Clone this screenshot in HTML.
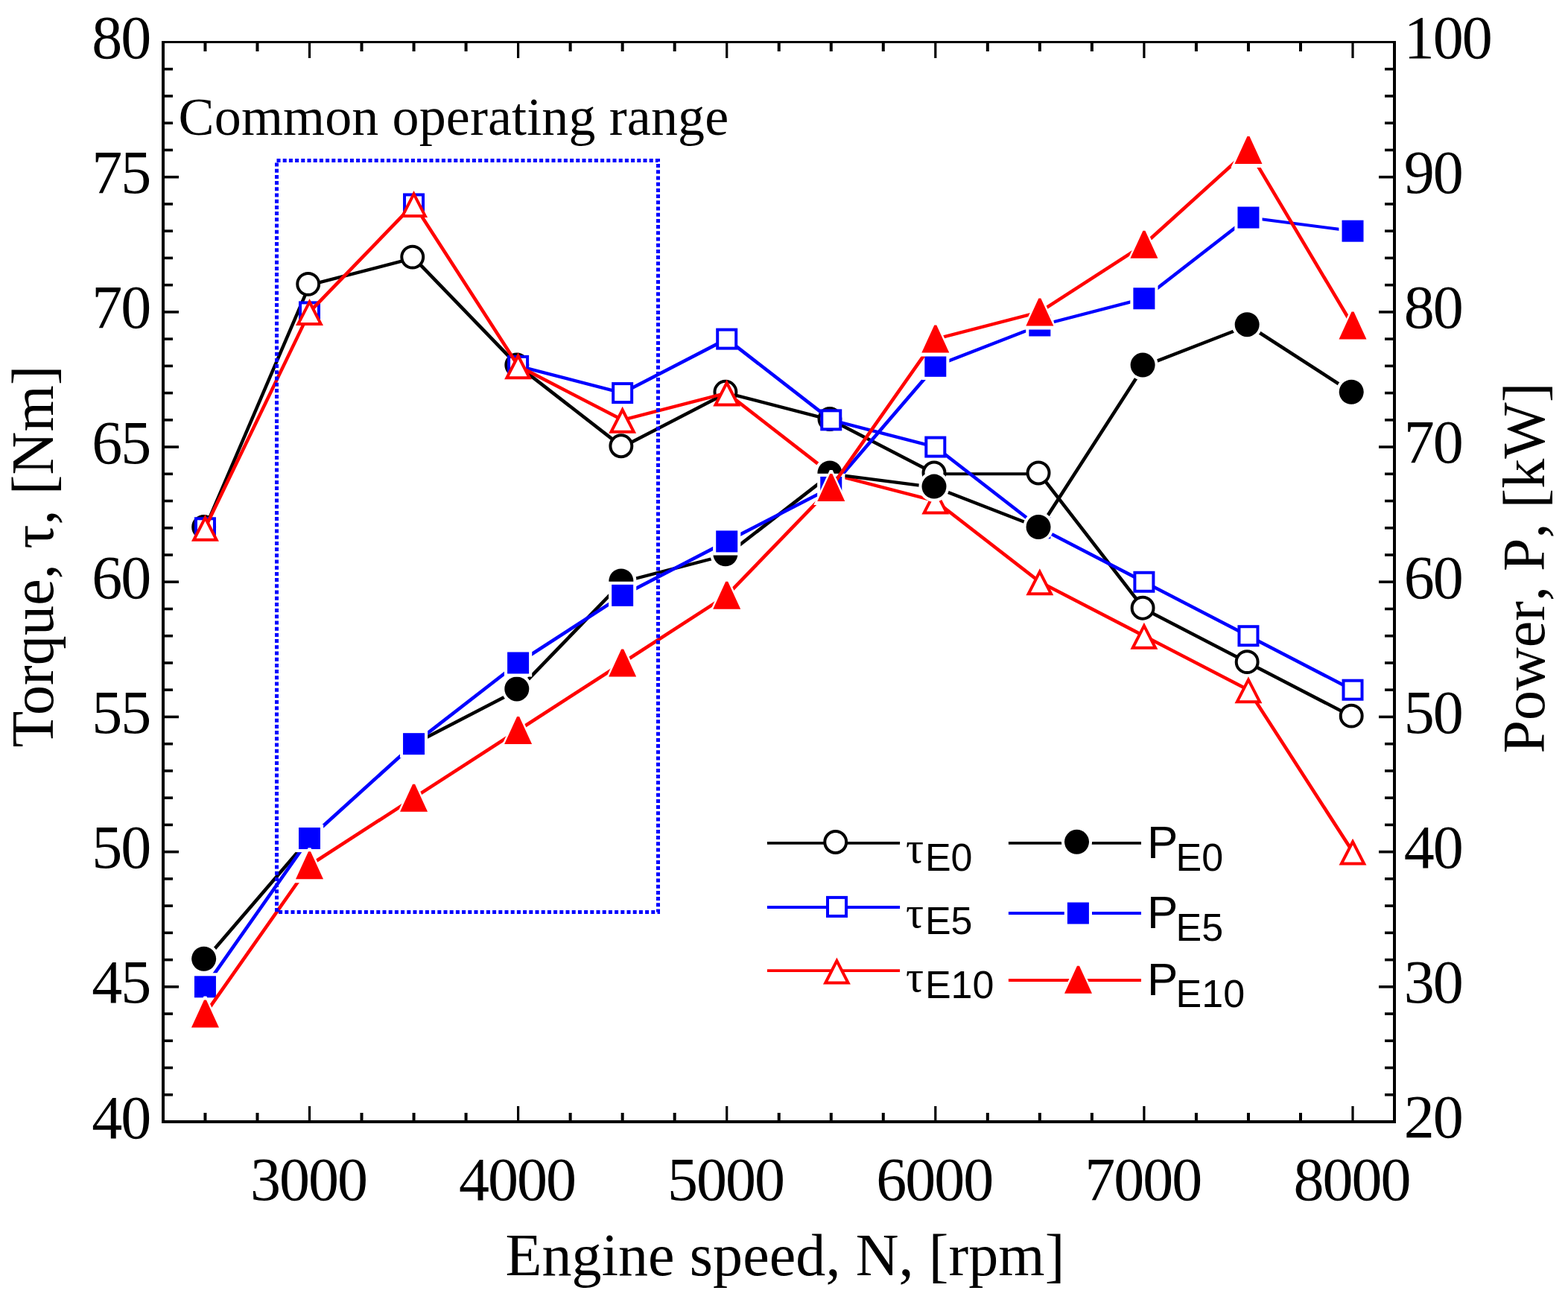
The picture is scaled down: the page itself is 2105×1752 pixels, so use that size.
<!DOCTYPE html>
<html><head><meta charset="utf-8"><title>Torque and power vs engine speed</title>
<style>html,body{margin:0;padding:0;background:#fff}svg{display:block}.sr{font-family:"Liberation Serif","Times New Roman",serif}.ss{font-family:"Liberation Sans",Arial,sans-serif}</style></head><body>
<svg width="2105" height="1752" viewBox="0 0 2105 1752">
<rect x="0" y="0" width="2105" height="1752" fill="#fff"/>
<g fill="#000"><rect x="273.45" y="1494" width="4" height="11"/><rect x="273.45" y="57" width="4" height="12"/><rect x="343.48" y="1494" width="4" height="11"/><rect x="343.48" y="57" width="4" height="12"/><rect x="413.9" y="1485" width="3.2" height="20"/><rect x="413.9" y="57" width="3.2" height="21"/><rect x="483.52" y="1494" width="4" height="11"/><rect x="483.52" y="57" width="4" height="12"/><rect x="553.55" y="1494" width="4" height="11"/><rect x="553.55" y="57" width="4" height="12"/><rect x="623.58" y="1494" width="4" height="11"/><rect x="623.58" y="57" width="4" height="12"/><rect x="694" y="1485" width="3.2" height="20"/><rect x="694" y="57" width="3.2" height="21"/><rect x="763.62" y="1494" width="4" height="11"/><rect x="763.62" y="57" width="4" height="12"/><rect x="833.65" y="1494" width="4" height="11"/><rect x="833.65" y="57" width="4" height="12"/><rect x="903.67" y="1494" width="4" height="11"/><rect x="903.67" y="57" width="4" height="12"/><rect x="974.1" y="1485" width="3.2" height="20"/><rect x="974.1" y="57" width="3.2" height="21"/><rect x="1043.72" y="1494" width="4" height="11"/><rect x="1043.72" y="57" width="4" height="12"/><rect x="1113.75" y="1494" width="4" height="11"/><rect x="1113.75" y="57" width="4" height="12"/><rect x="1183.78" y="1494" width="4" height="11"/><rect x="1183.78" y="57" width="4" height="12"/><rect x="1254.2" y="1485" width="3.2" height="20"/><rect x="1254.2" y="57" width="3.2" height="21"/><rect x="1323.83" y="1494" width="4" height="11"/><rect x="1323.83" y="57" width="4" height="12"/><rect x="1393.85" y="1494" width="4" height="11"/><rect x="1393.85" y="57" width="4" height="12"/><rect x="1463.88" y="1494" width="4" height="11"/><rect x="1463.88" y="57" width="4" height="12"/><rect x="1534.3" y="1485" width="3.2" height="20"/><rect x="1534.3" y="57" width="3.2" height="21"/><rect x="1603.92" y="1494" width="4" height="11"/><rect x="1603.92" y="57" width="4" height="12"/><rect x="1673.95" y="1494" width="4" height="11"/><rect x="1673.95" y="57" width="4" height="12"/><rect x="1743.98" y="1494" width="4" height="11"/><rect x="1743.98" y="57" width="4" height="12"/><rect x="1814.4" y="1485" width="3.2" height="20"/><rect x="1814.4" y="57" width="3.2" height="21"/><rect x="220" y="1467.96" width="12" height="3.6"/><rect x="1859" y="1467.96" width="12" height="3.6"/><rect x="220" y="1431.72" width="12" height="3.6"/><rect x="1859" y="1431.72" width="12" height="3.6"/><rect x="220" y="1395.49" width="12" height="3.6"/><rect x="1859" y="1395.49" width="12" height="3.6"/><rect x="220" y="1359.25" width="12" height="3.6"/><rect x="1859" y="1359.25" width="12" height="3.6"/><rect x="220" y="1323.01" width="20" height="3.6"/><rect x="1851" y="1323.01" width="20" height="3.6"/><rect x="220" y="1286.77" width="12" height="3.6"/><rect x="1859" y="1286.77" width="12" height="3.6"/><rect x="220" y="1250.54" width="12" height="3.6"/><rect x="1859" y="1250.54" width="12" height="3.6"/><rect x="220" y="1214.3" width="12" height="3.6"/><rect x="1859" y="1214.3" width="12" height="3.6"/><rect x="220" y="1178.06" width="12" height="3.6"/><rect x="1859" y="1178.06" width="12" height="3.6"/><rect x="220" y="1141.83" width="20" height="3.6"/><rect x="1851" y="1141.83" width="20" height="3.6"/><rect x="220" y="1105.59" width="12" height="3.6"/><rect x="1859" y="1105.59" width="12" height="3.6"/><rect x="220" y="1069.35" width="12" height="3.6"/><rect x="1859" y="1069.35" width="12" height="3.6"/><rect x="220" y="1033.11" width="12" height="3.6"/><rect x="1859" y="1033.11" width="12" height="3.6"/><rect x="220" y="996.88" width="12" height="3.6"/><rect x="1859" y="996.88" width="12" height="3.6"/><rect x="220" y="960.64" width="20" height="3.6"/><rect x="1851" y="960.64" width="20" height="3.6"/><rect x="220" y="924.4" width="12" height="3.6"/><rect x="1859" y="924.4" width="12" height="3.6"/><rect x="220" y="888.16" width="12" height="3.6"/><rect x="1859" y="888.16" width="12" height="3.6"/><rect x="220" y="851.92" width="12" height="3.6"/><rect x="1859" y="851.92" width="12" height="3.6"/><rect x="220" y="815.69" width="12" height="3.6"/><rect x="1859" y="815.69" width="12" height="3.6"/><rect x="220" y="779.45" width="20" height="3.6"/><rect x="1851" y="779.45" width="20" height="3.6"/><rect x="220" y="743.21" width="12" height="3.6"/><rect x="1859" y="743.21" width="12" height="3.6"/><rect x="220" y="706.98" width="12" height="3.6"/><rect x="1859" y="706.98" width="12" height="3.6"/><rect x="220" y="670.74" width="12" height="3.6"/><rect x="1859" y="670.74" width="12" height="3.6"/><rect x="220" y="634.5" width="12" height="3.6"/><rect x="1859" y="634.5" width="12" height="3.6"/><rect x="220" y="598.26" width="20" height="3.6"/><rect x="1851" y="598.26" width="20" height="3.6"/><rect x="220" y="562.02" width="12" height="3.6"/><rect x="1859" y="562.02" width="12" height="3.6"/><rect x="220" y="525.79" width="12" height="3.6"/><rect x="1859" y="525.79" width="12" height="3.6"/><rect x="220" y="489.55" width="12" height="3.6"/><rect x="1859" y="489.55" width="12" height="3.6"/><rect x="220" y="453.31" width="12" height="3.6"/><rect x="1859" y="453.31" width="12" height="3.6"/><rect x="220" y="417.07" width="20" height="3.6"/><rect x="1851" y="417.07" width="20" height="3.6"/><rect x="220" y="380.84" width="12" height="3.6"/><rect x="1859" y="380.84" width="12" height="3.6"/><rect x="220" y="344.6" width="12" height="3.6"/><rect x="1859" y="344.6" width="12" height="3.6"/><rect x="220" y="308.36" width="12" height="3.6"/><rect x="1859" y="308.36" width="12" height="3.6"/><rect x="220" y="272.12" width="12" height="3.6"/><rect x="1859" y="272.12" width="12" height="3.6"/><rect x="220" y="235.89" width="20" height="3.6"/><rect x="1851" y="235.89" width="20" height="3.6"/><rect x="220" y="199.65" width="12" height="3.6"/><rect x="1859" y="199.65" width="12" height="3.6"/><rect x="220" y="163.41" width="12" height="3.6"/><rect x="1859" y="163.41" width="12" height="3.6"/><rect x="220" y="127.17" width="12" height="3.6"/><rect x="1859" y="127.17" width="12" height="3.6"/><rect x="220" y="90.94" width="12" height="3.6"/><rect x="1859" y="90.94" width="12" height="3.6"/></g>
<g fill="#000"><rect x="217" y="55" width="1657" height="3"/><rect x="217" y="1504" width="1657" height="4"/><rect x="217" y="55" width="4" height="1453"/><rect x="1870" y="55" width="4" height="1453"/></g>
<g class="sr" font-size="82" letter-spacing="-2" fill="#000"><text x="123.2" y="1527.6">40</text><text x="123.2" y="1346.41">45</text><text x="123.2" y="1165.22">50</text><text x="123.2" y="984.04">55</text><text x="123.2" y="802.85">60</text><text x="123.2" y="621.66">65</text><text x="123.2" y="440.48">70</text><text x="123.2" y="259.29">75</text><text x="123.2" y="78.1">80</text><text x="1884.8" y="1527.4">20</text><text x="1884.8" y="1346.21">30</text><text x="1884.8" y="1165.03">40</text><text x="1884.8" y="983.84">50</text><text x="1884.8" y="802.65">60</text><text x="1884.8" y="621.46">70</text><text x="1884.8" y="440.27">80</text><text x="1884.8" y="259.09">90</text><text x="1884.8" y="77.9">100</text><text x="335.9" y="1611">3000</text><text x="616" y="1611">4000</text><text x="896.1" y="1611">5000</text><text x="1176.2" y="1611">6000</text><text x="1456.3" y="1611">7000</text><text x="1736.4" y="1611">8000</text></g>
<text class="sr" font-size="80" fill="#000" letter-spacing="0.15" transform="translate(70.65,1003.5) rotate(-90)">Torque, τ, [Nm]</text>
<text class="sr" font-size="80" fill="#000" style="font-kerning:none" transform="translate(2072.8,1011.4) rotate(-90)">Power, P, [kW]</text>
<text class="sr" font-size="80" fill="#000" letter-spacing="0.1" x="678.5" y="1711.8">Engine speed, N, [rpm]</text>
<text class="sr" font-size="72" fill="#000" letter-spacing="0.13" x="239.6" y="181">Common operating range</text>
<g><g stroke="#000000" stroke-linecap="round"><line x1="275.45" y1="708.77" x2="415.5" y2="382.64" stroke-width="4.5"/><line x1="415.5" y1="382.64" x2="555.55" y2="346.4" stroke-width="4.35"/><line x1="555.55" y1="346.4" x2="695.6" y2="491.35" stroke-width="4.66"/><line x1="695.6" y1="491.35" x2="835.65" y2="600.06" stroke-width="4.64"/><line x1="835.65" y1="600.06" x2="975.7" y2="527.59" stroke-width="4.56"/><line x1="975.7" y1="527.59" x2="1115.75" y2="563.82" stroke-width="4.35"/><line x1="1115.75" y1="563.82" x2="1255.8" y2="636.3" stroke-width="4.56"/><line x1="1255.8" y1="636.3" x2="1395.85" y2="636.3" stroke-width="4"/><line x1="1395.85" y1="636.3" x2="1535.9" y2="817.49" stroke-width="4.64"/><line x1="1535.9" y1="817.49" x2="1675.95" y2="889.96" stroke-width="4.56"/><line x1="1675.95" y1="889.96" x2="1816" y2="962.44" stroke-width="4.56"/></g><circle cx="273.65" cy="707.48" r="14.45" fill="#fff" stroke="#000000" stroke-width="4.0"/><circle cx="413.7" cy="381.34" r="14.45" fill="#fff" stroke="#000000" stroke-width="4.0"/><circle cx="553.75" cy="345.1" r="14.45" fill="#fff" stroke="#000000" stroke-width="4.0"/><circle cx="693.8" cy="490.05" r="14.45" fill="#fff" stroke="#000000" stroke-width="4.0"/><circle cx="833.85" cy="598.76" r="14.45" fill="#fff" stroke="#000000" stroke-width="4.0"/><circle cx="973.9" cy="526.29" r="14.45" fill="#fff" stroke="#000000" stroke-width="4.0"/><circle cx="1113.95" cy="562.52" r="14.45" fill="#fff" stroke="#000000" stroke-width="4.0"/><circle cx="1254" cy="635" r="14.45" fill="#fff" stroke="#000000" stroke-width="4.0"/><circle cx="1394.05" cy="635" r="14.45" fill="#fff" stroke="#000000" stroke-width="4.0"/><circle cx="1534.1" cy="816.19" r="14.45" fill="#fff" stroke="#000000" stroke-width="4.0"/><circle cx="1674.15" cy="888.66" r="14.45" fill="#fff" stroke="#000000" stroke-width="4.0"/><circle cx="1814.2" cy="961.14" r="14.45" fill="#fff" stroke="#000000" stroke-width="4.0"/></g>
<g><g stroke="#0000ff" stroke-linecap="round"><line x1="695.6" y1="491.35" x2="835.65" y2="527.59" stroke-width="4.35"/><line x1="835.65" y1="527.59" x2="975.7" y2="455.11" stroke-width="4.56"/><line x1="975.7" y1="455.11" x2="1115.75" y2="563.82" stroke-width="4.64"/><line x1="1115.75" y1="563.82" x2="1255.8" y2="600.06" stroke-width="4.35"/><line x1="1255.8" y1="600.06" x2="1395.85" y2="708.77" stroke-width="4.64"/><line x1="1395.85" y1="708.77" x2="1535.9" y2="781.25" stroke-width="4.56"/><line x1="1535.9" y1="781.25" x2="1675.95" y2="853.72" stroke-width="4.56"/><line x1="1675.95" y1="853.72" x2="1816" y2="926.2" stroke-width="4.56"/></g><rect x="262.95" y="696.27" width="25" height="25" fill="#fff" stroke="#0000ff" stroke-width="4.0"/><rect x="403" y="406.38" width="25" height="25" fill="#fff" stroke="#0000ff" stroke-width="4.0"/><rect x="543.05" y="261.42" width="25" height="25" fill="#fff" stroke="#0000ff" stroke-width="4.0"/><rect x="683.1" y="478.85" width="25" height="25" fill="#fff" stroke="#0000ff" stroke-width="4.0"/><rect x="823.15" y="515.09" width="25" height="25" fill="#fff" stroke="#0000ff" stroke-width="4.0"/><rect x="963.2" y="442.61" width="25" height="25" fill="#fff" stroke="#0000ff" stroke-width="4.0"/><rect x="1103.25" y="551.32" width="25" height="25" fill="#fff" stroke="#0000ff" stroke-width="4.0"/><rect x="1243.3" y="587.56" width="25" height="25" fill="#fff" stroke="#0000ff" stroke-width="4.0"/><rect x="1383.35" y="696.27" width="25" height="25" fill="#fff" stroke="#0000ff" stroke-width="4.0"/><rect x="1523.4" y="768.75" width="25" height="25" fill="#fff" stroke="#0000ff" stroke-width="4.0"/><rect x="1663.45" y="841.22" width="25" height="25" fill="#fff" stroke="#0000ff" stroke-width="4.0"/><rect x="1803.5" y="913.7" width="25" height="25" fill="#fff" stroke="#0000ff" stroke-width="4.0"/></g>
<g><g stroke="#ff0000" stroke-linecap="round"><line x1="275.45" y1="708.77" x2="415.5" y2="418.88" stroke-width="4.54"/><line x1="415.5" y1="418.88" x2="555.55" y2="273.92" stroke-width="4.66"/><line x1="555.55" y1="273.92" x2="695.6" y2="491.35" stroke-width="4.61"/><line x1="695.6" y1="491.35" x2="835.65" y2="563.82" stroke-width="4.56"/><line x1="835.65" y1="563.82" x2="975.7" y2="527.59" stroke-width="4.35"/><line x1="975.7" y1="527.59" x2="1115.75" y2="636.3" stroke-width="4.64"/><line x1="1115.75" y1="636.3" x2="1255.8" y2="672.54" stroke-width="4.35"/><line x1="1255.8" y1="672.54" x2="1395.85" y2="781.25" stroke-width="4.64"/><line x1="1395.85" y1="781.25" x2="1535.9" y2="853.72" stroke-width="4.56"/><line x1="1535.9" y1="853.72" x2="1675.95" y2="926.2" stroke-width="4.56"/><line x1="1675.95" y1="926.2" x2="1816" y2="1143.62" stroke-width="4.61"/></g><polygon points="275.45,695.17 290.65,724.77 260.25,724.77" fill="#fff" stroke="#ff0000" stroke-width="4" stroke-linejoin="miter"/><polygon points="415.5,405.27 430.7,434.88 400.3,434.88" fill="#fff" stroke="#ff0000" stroke-width="4" stroke-linejoin="miter"/><polygon points="555.55,260.32 570.75,289.92 540.35,289.92" fill="#fff" stroke="#ff0000" stroke-width="4" stroke-linejoin="miter"/><polygon points="695.6,477.75 710.8,507.35 680.4,507.35" fill="#fff" stroke="#ff0000" stroke-width="4" stroke-linejoin="miter"/><polygon points="835.65,550.22 850.85,579.82 820.45,579.82" fill="#fff" stroke="#ff0000" stroke-width="4" stroke-linejoin="miter"/><polygon points="975.7,513.99 990.9,543.59 960.5,543.59" fill="#fff" stroke="#ff0000" stroke-width="4" stroke-linejoin="miter"/><polygon points="1115.75,622.7 1130.95,652.3 1100.55,652.3" fill="#fff" stroke="#ff0000" stroke-width="4" stroke-linejoin="miter"/><polygon points="1255.8,658.94 1271,688.54 1240.6,688.54" fill="#fff" stroke="#ff0000" stroke-width="4" stroke-linejoin="miter"/><polygon points="1395.85,767.65 1411.05,797.25 1380.65,797.25" fill="#fff" stroke="#ff0000" stroke-width="4" stroke-linejoin="miter"/><polygon points="1535.9,840.12 1551.1,869.72 1520.7,869.72" fill="#fff" stroke="#ff0000" stroke-width="4" stroke-linejoin="miter"/><polygon points="1675.95,912.6 1691.15,942.2 1660.75,942.2" fill="#fff" stroke="#ff0000" stroke-width="4" stroke-linejoin="miter"/><polygon points="1816,1130.03 1831.2,1159.62 1800.8,1159.62" fill="#fff" stroke="#ff0000" stroke-width="4" stroke-linejoin="miter"/></g>
<g><g stroke="#000000" stroke-linecap="round"><line x1="275.45" y1="1288.57" x2="415.5" y2="1125.51" stroke-width="4.66"/><line x1="555.55" y1="998.67" x2="695.6" y2="926.2" stroke-width="4.56"/><line x1="695.6" y1="926.2" x2="835.65" y2="781.25" stroke-width="4.66"/><line x1="835.65" y1="781.25" x2="975.7" y2="745.01" stroke-width="4.35"/><line x1="975.7" y1="745.01" x2="1115.75" y2="636.3" stroke-width="4.64"/><line x1="1115.75" y1="636.3" x2="1255.8" y2="654.42" stroke-width="4.19"/><line x1="1255.8" y1="654.42" x2="1395.85" y2="708.77" stroke-width="4.47"/><line x1="1395.85" y1="708.77" x2="1535.9" y2="491.35" stroke-width="4.61"/><line x1="1535.9" y1="491.35" x2="1675.95" y2="436.99" stroke-width="4.47"/><line x1="1675.95" y1="436.99" x2="1816" y2="527.59" stroke-width="4.61"/></g><circle cx="273.65" cy="1287.27" r="20.6" fill="#fff"/><circle cx="273.65" cy="1287.27" r="16.5" fill="#000000"/><circle cx="413.7" cy="1124.21" r="20.6" fill="#fff"/><circle cx="413.7" cy="1124.21" r="16.5" fill="#000000"/><circle cx="553.75" cy="997.38" r="20.6" fill="#fff"/><circle cx="553.75" cy="997.38" r="16.5" fill="#000000"/><circle cx="693.8" cy="924.9" r="20.6" fill="#fff"/><circle cx="693.8" cy="924.9" r="16.5" fill="#000000"/><circle cx="833.85" cy="779.95" r="20.6" fill="#fff"/><circle cx="833.85" cy="779.95" r="16.5" fill="#000000"/><circle cx="973.9" cy="743.71" r="20.6" fill="#fff"/><circle cx="973.9" cy="743.71" r="16.5" fill="#000000"/><circle cx="1113.95" cy="635" r="20.6" fill="#fff"/><circle cx="1113.95" cy="635" r="16.5" fill="#000000"/><circle cx="1254" cy="653.12" r="20.6" fill="#fff"/><circle cx="1254" cy="653.12" r="16.5" fill="#000000"/><circle cx="1394.05" cy="707.48" r="20.6" fill="#fff"/><circle cx="1394.05" cy="707.48" r="16.5" fill="#000000"/><circle cx="1534.1" cy="490.05" r="20.6" fill="#fff"/><circle cx="1534.1" cy="490.05" r="16.5" fill="#000000"/><circle cx="1674.15" cy="435.69" r="20.6" fill="#fff"/><circle cx="1674.15" cy="435.69" r="16.5" fill="#000000"/><circle cx="1814.2" cy="526.29" r="20.6" fill="#fff"/><circle cx="1814.2" cy="526.29" r="16.5" fill="#000000"/></g>
<g><g stroke="#0000ff" stroke-linecap="round"><line x1="275.45" y1="1324.81" x2="415.5" y2="1125.51" stroke-width="4.63"/><line x1="415.5" y1="1125.51" x2="555.55" y2="998.67" stroke-width="4.66"/><line x1="555.55" y1="998.67" x2="695.6" y2="889.96" stroke-width="4.64"/><line x1="695.6" y1="889.96" x2="835.65" y2="799.37" stroke-width="4.61"/><line x1="835.65" y1="799.37" x2="975.7" y2="726.89" stroke-width="4.56"/><line x1="975.7" y1="726.89" x2="1115.75" y2="654.42" stroke-width="4.56"/><line x1="1115.75" y1="654.42" x2="1255.8" y2="491.35" stroke-width="4.66"/><line x1="1255.8" y1="491.35" x2="1395.85" y2="436.99" stroke-width="4.47"/><line x1="1395.85" y1="436.99" x2="1535.9" y2="400.76" stroke-width="4.35"/><line x1="1535.9" y1="400.76" x2="1675.95" y2="292.04" stroke-width="4.64"/><line x1="1675.95" y1="292.04" x2="1816" y2="310.16" stroke-width="4.19"/></g><rect x="256.85" y="1306.21" width="37.2" height="37.2" fill="#fff"/><rect x="260.95" y="1310.31" width="29" height="29" fill="#0000ff"/><rect x="396.9" y="1106.91" width="37.2" height="37.2" fill="#fff"/><rect x="401" y="1111.01" width="29" height="29" fill="#0000ff"/><rect x="536.95" y="980.07" width="37.2" height="37.2" fill="#fff"/><rect x="541.05" y="984.17" width="29" height="29" fill="#0000ff"/><rect x="677" y="871.36" width="37.2" height="37.2" fill="#fff"/><rect x="681.1" y="875.46" width="29" height="29" fill="#0000ff"/><rect x="817.05" y="780.77" width="37.2" height="37.2" fill="#fff"/><rect x="821.15" y="784.87" width="29" height="29" fill="#0000ff"/><rect x="957.1" y="708.29" width="37.2" height="37.2" fill="#fff"/><rect x="961.2" y="712.39" width="29" height="29" fill="#0000ff"/><rect x="1097.15" y="635.82" width="37.2" height="37.2" fill="#fff"/><rect x="1101.25" y="639.92" width="29" height="29" fill="#0000ff"/><rect x="1237.2" y="472.75" width="37.2" height="37.2" fill="#fff"/><rect x="1241.3" y="476.85" width="29" height="29" fill="#0000ff"/><rect x="1377.25" y="418.39" width="37.2" height="37.2" fill="#fff"/><rect x="1381.35" y="422.49" width="29" height="29" fill="#0000ff"/><rect x="1517.3" y="382.16" width="37.2" height="37.2" fill="#fff"/><rect x="1521.4" y="386.26" width="29" height="29" fill="#0000ff"/><rect x="1657.35" y="273.44" width="37.2" height="37.2" fill="#fff"/><rect x="1661.45" y="277.54" width="29" height="29" fill="#0000ff"/><rect x="1797.4" y="291.56" width="37.2" height="37.2" fill="#fff"/><rect x="1801.5" y="295.66" width="29" height="29" fill="#0000ff"/></g>
<g><g stroke="#ff0000" stroke-linecap="round"><line x1="275.45" y1="1361.05" x2="415.5" y2="1161.74" stroke-width="4.63"/><line x1="415.5" y1="1161.74" x2="555.55" y2="1071.15" stroke-width="4.61"/><line x1="555.55" y1="1071.15" x2="695.6" y2="980.56" stroke-width="4.61"/><line x1="695.6" y1="980.56" x2="835.65" y2="889.96" stroke-width="4.61"/><line x1="835.65" y1="889.96" x2="975.7" y2="799.37" stroke-width="4.61"/><line x1="975.7" y1="799.37" x2="1115.75" y2="654.42" stroke-width="4.66"/><line x1="1115.75" y1="654.42" x2="1255.8" y2="455.11" stroke-width="4.63"/><line x1="1255.8" y1="455.11" x2="1395.85" y2="418.88" stroke-width="4.35"/><line x1="1395.85" y1="418.88" x2="1535.9" y2="328.28" stroke-width="4.61"/><line x1="1535.9" y1="328.28" x2="1675.95" y2="201.45" stroke-width="4.66"/><line x1="1675.95" y1="201.45" x2="1816" y2="436.99" stroke-width="4.59"/></g><polygon points="273.55,1337.55 277.35,1337.55 298.95,1384.55 251.95,1384.55" fill="#fff"/><polygon points="273.95,1342.55 276.95,1342.55 293.95,1379.55 256.95,1379.55" fill="#ff0000"/><polygon points="413.6,1138.24 417.4,1138.24 439,1185.24 392,1185.24" fill="#fff"/><polygon points="414,1143.24 417,1143.24 434,1180.24 397,1180.24" fill="#ff0000"/><polygon points="553.65,1047.65 557.45,1047.65 579.05,1094.65 532.05,1094.65" fill="#fff"/><polygon points="554.05,1052.65 557.05,1052.65 574.05,1089.65 537.05,1089.65" fill="#ff0000"/><polygon points="693.7,957.06 697.5,957.06 719.1,1004.06 672.1,1004.06" fill="#fff"/><polygon points="694.1,962.06 697.1,962.06 714.1,999.06 677.1,999.06" fill="#ff0000"/><polygon points="833.75,866.46 837.55,866.46 859.15,913.46 812.15,913.46" fill="#fff"/><polygon points="834.15,871.46 837.15,871.46 854.15,908.46 817.15,908.46" fill="#ff0000"/><polygon points="973.8,775.87 977.6,775.87 999.2,822.87 952.2,822.87" fill="#fff"/><polygon points="974.2,780.87 977.2,780.87 994.2,817.87 957.2,817.87" fill="#ff0000"/><polygon points="1113.85,630.92 1117.65,630.92 1139.25,677.92 1092.25,677.92" fill="#fff"/><polygon points="1114.25,635.92 1117.25,635.92 1134.25,672.92 1097.25,672.92" fill="#ff0000"/><polygon points="1253.9,431.61 1257.7,431.61 1279.3,478.61 1232.3,478.61" fill="#fff"/><polygon points="1254.3,436.61 1257.3,436.61 1274.3,473.61 1237.3,473.61" fill="#ff0000"/><polygon points="1393.95,395.38 1397.75,395.38 1419.35,442.38 1372.35,442.38" fill="#fff"/><polygon points="1394.35,400.38 1397.35,400.38 1414.35,437.38 1377.35,437.38" fill="#ff0000"/><polygon points="1534,304.78 1537.8,304.78 1559.4,351.78 1512.4,351.78" fill="#fff"/><polygon points="1534.4,309.78 1537.4,309.78 1554.4,346.78 1517.4,346.78" fill="#ff0000"/><polygon points="1674.05,177.95 1677.85,177.95 1699.45,224.95 1652.45,224.95" fill="#fff"/><polygon points="1674.45,182.95 1677.45,182.95 1694.45,219.95 1657.45,219.95" fill="#ff0000"/><polygon points="1814.1,413.49 1817.9,413.49 1839.5,460.49 1792.5,460.49" fill="#fff"/><polygon points="1814.5,418.49 1817.5,418.49 1834.5,455.49 1797.5,455.49" fill="#ff0000"/></g>
<rect x="371.5" y="215.5" width="512" height="1009" fill="none" stroke="#0000ff" stroke-width="5" stroke-dasharray="5 3.2"/>
<g><line x1="1029.9" y1="1131.8" x2="1208.1" y2="1131.8" stroke="#000000" stroke-width="3.8"/><circle cx="1121.7" cy="1130.5" r="14.45" fill="#fff" stroke="#000000" stroke-width="4.0"/><line x1="1029.9" y1="1218" x2="1208.1" y2="1218" stroke="#0000ff" stroke-width="3.8"/><rect x="1111" y="1204.9" width="25" height="25" fill="#fff" stroke="#0000ff" stroke-width="4.0"/><line x1="1029.9" y1="1303.2" x2="1208.1" y2="1303.2" stroke="#ff0000" stroke-width="3.8"/><polygon points="1123.4,1289.9 1138.6,1319.5 1108.2,1319.5" fill="#fff" stroke="#ff0000" stroke-width="4" stroke-linejoin="miter"/><line x1="1353.9" y1="1131.8" x2="1532" y2="1131.8" stroke="#000000" stroke-width="3.8"/><circle cx="1445.5" cy="1130.3" r="20.6" fill="#fff"/><circle cx="1445.5" cy="1130.3" r="16.5" fill="#000000"/><line x1="1353.9" y1="1226" x2="1532" y2="1226" stroke="#0000ff" stroke-width="3.8"/><rect x="1428.8" y="1207.4" width="37.2" height="37.2" fill="#fff"/><rect x="1432.9" y="1211.5" width="29" height="29" fill="#0000ff"/><line x1="1353.9" y1="1316" x2="1532" y2="1316" stroke="#ff0000" stroke-width="3.8"/><polygon points="1445.6,1291.7 1449.4,1291.7 1471,1338.7 1424,1338.7" fill="#fff"/><polygon points="1446,1296.7 1449,1296.7 1466,1333.7 1429,1333.7" fill="#ff0000"/></g>
<g fill="#000"><text class="sr" font-size="60" x="1215.9" y="1158.2">τ</text><text class="ss" font-size="52" x="1241.9" y="1169.4">E0</text><text class="sr" font-size="60" x="1215.9" y="1244.6">τ</text><text class="ss" font-size="52" x="1241.9" y="1254.4">E5</text><text class="sr" font-size="60" x="1215.9" y="1330.6">τ</text><text class="ss" font-size="52" x="1241.9" y="1340.4">E10</text><text class="ss" font-size="62" x="1539.9" y="1152.0">P</text><text class="ss" font-size="52" x="1578.6" y="1169.4">E0</text><text class="ss" font-size="62" x="1539.9" y="1245.7">P</text><text class="ss" font-size="52" x="1578.6" y="1262.5">E5</text><text class="ss" font-size="62" x="1539.9" y="1335.7">P</text><text class="ss" font-size="52" x="1578.6" y="1352.3">E10</text></g>
</svg></body></html>
